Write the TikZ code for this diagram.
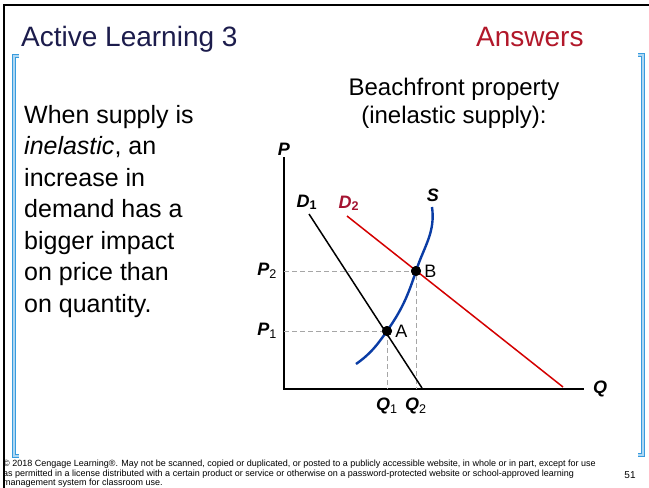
\documentclass[tikz,border=0pt]{standalone}
\usepackage{fontspec}
\setmainfont{Liberation Sans}
\usepackage{tikz}
\usetikzlibrary{positioning}

\definecolor{TitleNavy}{RGB}{28,28,76}
\definecolor{AnsRed}{RGB}{178,24,42}
\definecolor{DemRed}{RGB}{212,0,0}
\definecolor{DemLabel}{RGB}{165,20,50}
\definecolor{SupBlue}{RGB}{10,60,165}
\definecolor{BrkBlue}{RGB}{55,155,222}

\begin{document}
\begin{tikzpicture}[
x=1pt, y=-1pt,
axis/.style={line width=1.5pt, black},
guide/.style={gray!70, dash pattern=on 5pt off 3pt, line width=0.8pt},
dot/.style={circle, fill=black, inner sep=0pt, minimum size=10pt},
lbl/.style={font=\fontsize{18}{18}\selectfont\bfseries\itshape, inner sep=1pt},
pt/.style={font=\fontsize{18}{18}\selectfont, inner sep=1pt},
bracket/.style={draw=BrkBlue, line width=1pt, double=BrkBlue!40, double distance=1.8pt},
body/.style={font=\fontsize{25}{31.5}\selectfont, align=left, inner sep=0pt}
]
\useasboundingbox[fill=white] (0,0) rectangle (649,488);
\draw[line width=2pt] (4,488) -- (4,4.5) -- (649,4.5);
\draw[bracket] (19,56) -- (14,56) -- (14,456) -- (19,456);
\draw[bracket] (638,55) -- (643,55) -- (643,455) -- (638,455);

% headings
\node[anchor=base west, inner sep=0pt, font=\fontsize{28}{28}\selectfont, TitleNavy] (title) at (21,46) {Active Learning 3};
\node[anchor=base west, inner sep=0pt, font=\fontsize{28}{28}\selectfont, AnsRed] (answers) at (476,46) {Answers};
\node[body, anchor=north west] (text) at (24,105) {When supply is\\\textit{inelastic}, an\\increase in\\demand has a\\bigger impact\\on price than\\on quantity.};
\node[font=\fontsize{24}{27.5}\selectfont, align=center, inner sep=0pt, anchor=north] (case) at (454,78) {Beachfront property\\(inelastic supply):};

% axes
\coordinate (O) at (284,389);
\coordinate (Ptop) at (284,157);
\coordinate (Qend) at (584,389);
\draw[axis] (Ptop) -- (O) -- (Qend);
\node[lbl, above=0pt of Ptop] (P) {P};
\node[lbl, right=8pt of Qend] (Q) {Q};

% curves
\coordinate (d1a) at (309,214);
\coordinate (d1b) at (422,388);
\coordinate (d2a) at (347,216);
\coordinate (d2b) at (563,387);
\coordinate (s0) at (356,364);
\coordinate (s1) at (432,207);
\node[dot] (A) at (387,331) {};
\node[dot] (B) at (416,271) {};
\coordinate (P1) at (O |- A);
\coordinate (P2) at (O |- B);
\coordinate (Q1) at (O -| A);
\coordinate (Q2) at (O -| B);
\draw[guide] (P1) -- (A.center) -- (Q1);
\draw[guide] (P2) -- (B.center) -- (Q2);
\draw[line width=1.5pt] (d1a) -- (d1b);
\draw[line width=1.5pt, DemRed] (d2a) -- (d2b);
\draw[line width=2.4pt, SupBlue] (s0) to[out=35, in=-125] (A.center) to[out=55, in=-108] (B.center) to[out=72, in=-82] (s1);
\node[dot] at (A) {};
\node[dot] at (B) {};

% labels
\node[lbl, anchor=base] (D1) at (307,207) {D\textsubscript{\upshape 1}};
\node[lbl, anchor=base, DemLabel] (D2) at (349,208) {D\textsubscript{\upshape 2}};
\node[lbl, anchor=base] (S) at (433,201) {S};
\node[pt, right=2pt of A] (Alab) {A};
\node[pt, right=2pt of B] (Blab) {B};
\node[lbl, left=6pt of P1] (P1lab) {P\textsubscript{\mdseries\upshape 1}};
\node[lbl, left=6pt of P2] (P2lab) {P\textsubscript{\mdseries\upshape 2}};
\node[lbl, below=8pt of Q1] (Q1lab) {Q\textsubscript{\mdseries\upshape 1}};
\node[lbl, below=8pt of Q2] (Q2lab) {Q\textsubscript{\mdseries\upshape 2}};

% footer
\node[anchor=north west, align=left, inner sep=0pt, font=\fontsize{9}{9.5}\selectfont] (foot) at (3,460) {\textcopyright{} 2018 Cengage Learning\textregistered. May not be scanned, copied or duplicated, or posted to a publicly accessible website, in whole or in part, except for use\\as permitted in a license distributed with a certain product or service or otherwise on a password-protected website or school-approved learning\\management system for classroom use.};
\node[anchor=base, inner sep=0pt, font=\fontsize{10}{10}\selectfont] (page) at (630,478) {51};
\end{tikzpicture}
\end{document}
